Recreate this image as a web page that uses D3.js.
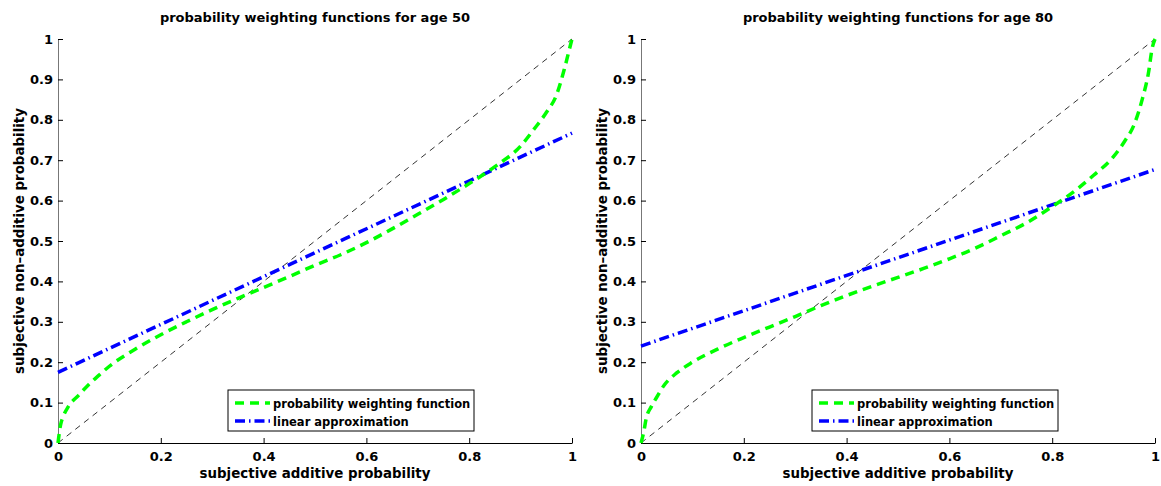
<!DOCTYPE html>
<html>
<head>
<meta charset="utf-8">
<script src="https://cdn.jsdelivr.net/npm/d3@7"></script>
<style>
  body { margin: 0; background: #fff; }
  svg text { font-family: "DejaVu Sans", "Liberation Sans", Arial, sans-serif; font-weight: bold; fill: #000; }
</style>
</head>
<body>
<div id="chart"></div>
<script>
// valores
const ticks = [0, 0.2, 0.4, 0.6, 0.8, 1];
const yTicks = [0, 0.1, 0.2, 0.3, 0.4, 0.5, 0.6, 0.7, 0.8, 0.9, 1];

const p50 = [0, 0.005, 0.01, 0.02, 0.04, 0.06, 0.08, 0.1, 0.15, 0.2, 0.25, 0.3, 0.35, 0.4, 0.45, 0.5, 0.55, 0.6, 0.65, 0.7, 0.75, 0.8, 0.85, 0.9, 0.925, 0.95, 0.97, 0.985, 0.995, 1];
const w50 = [0, 0.045, 0.065, 0.09, 0.118, 0.145, 0.168, 0.19, 0.232, 0.268, 0.3, 0.33, 0.358, 0.385, 0.412, 0.44, 0.466, 0.496, 0.53, 0.566, 0.603, 0.642, 0.684, 0.735, 0.775, 0.818, 0.862, 0.925, 0.975, 1];

const p80 = [0, 0.005, 0.01, 0.02, 0.03, 0.045, 0.07, 0.1, 0.15, 0.2, 0.25, 0.3, 0.35, 0.4, 0.45, 0.5, 0.55, 0.6, 0.65, 0.7, 0.75, 0.8, 0.85, 0.88, 0.92, 0.94, 0.96, 0.975, 0.987, 0.995, 1];
const w80 = [0, 0.025, 0.06, 0.09, 0.112, 0.143, 0.174, 0.2, 0.233, 0.261, 0.287, 0.313, 0.34, 0.365, 0.388, 0.41, 0.432, 0.456, 0.482, 0.513, 0.545, 0.585, 0.63, 0.662, 0.71, 0.745, 0.79, 0.85, 0.914, 0.98, 1];

const pLin = [0, 1];
const lin50 = [0.175, 0.767];
const lin80 = [0.24, 0.677];

const paneles = [
  { titulo: "probability weighting functions for age 50", x0: 58, x1: 572, p: p50, w: w50, lin: lin50, leg: 228 },
  { titulo: "probability weighting functions for age 80", x0: 641, x1: 1155, p: p80, w: w80, lin: lin80, leg: 812 }
];

const width = 1161, height = 486, yTop = 39, yBottom = 443;

const svg = d3.select("#chart").append("svg")
  .attr("width", width).attr("height", height);

paneles.forEach(pn => {
  const x = d3.scaleLinear().domain([0, 1]).range([pn.x0, pn.x1]);
  const y = d3.scaleLinear().domain([0, 1]).range([yBottom, yTop]);
  const g = svg.append("g");

  // ejes estilo matlab
  const ax = g.append("g")
    .attr("transform", `translate(0,${yBottom})`)
    .call(d3.axisBottom(x).tickValues(ticks).tickFormat(d3.format("~g")).tickSizeInner(-5).tickSizeOuter(0).tickPadding(9));
  ax.select(".domain").attr("stroke", "#000");
  ax.selectAll("text").attr("font-size", "13px");

  const ay = g.append("g")
    .attr("transform", `translate(${pn.x0},0)`)
    .call(d3.axisLeft(y).tickValues(yTicks).tickFormat(d3.format("~g")).tickSizeInner(-5).tickSizeOuter(0).tickPadding(5));
  ay.select(".domain").attr("stroke", "#777");
  ay.selectAll("text").attr("font-size", "13px");

  const line = d3.line().curve(d3.curveMonotoneX).x(d => x(d[0])).y(d => y(d[1]));

  // diagonal
  g.append("path")
    .datum([[0, 0], [1, 1]])
    .attr("d", line).attr("fill", "none")
    .attr("stroke", "#000").attr("stroke-width", 0.8)
    .attr("stroke-dasharray", "6,5");

  g.append("path")
    .datum(pLin.map((v, i) => [v, pn.lin[i]]))
    .attr("d", line).attr("fill", "none")
    .attr("stroke", "#0000ff").attr("stroke-width", 3.5)
    .attr("stroke-dasharray", "10,4,1.5,4");

  g.append("path")
    .datum(pn.p.map((v, i) => [v, pn.w[i]]))
    .attr("d", line).attr("fill", "none")
    .attr("stroke", "#00ff00").attr("stroke-width", 3.5)
    .attr("stroke-dasharray", "9,6");

  const cx = (pn.x0 + pn.x1) / 2;
  g.append("text").attr("x", cx).attr("y", 22)
    .attr("text-anchor", "middle").attr("font-size", "13px").text(pn.titulo);
  g.append("text").attr("x", cx).attr("y", 478)
    .attr("text-anchor", "middle").attr("font-size", "13.4px").text("subjective additive probability");
  g.append("text")
    .attr("transform", `translate(${pn.x0 - 34},${(yTop + yBottom) / 2}) rotate(-90)`)
    .attr("text-anchor", "middle").attr("font-size", "13.4px").text("subjective non\u2013additive probability");

  // leyenda
  const lg = g.append("g").attr("transform", `translate(${pn.leg},390)`);
  lg.append("rect").attr("width", 246).attr("height", 41)
    .attr("fill", "#fff").attr("stroke", "#000").attr("stroke-width", 1);
  const items = [
    { txt: "probability weighting function", c: "#00ff00", dash: "9,6" },
    { txt: "linear approximation", c: "#0000ff", dash: "10,4,1.5,4" }
  ];
  items.forEach((it, i) => {
    const yy = 13 + i * 18;
    lg.append("line").attr("x1", 7).attr("x2", 42).attr("y1", yy).attr("y2", yy)
      .attr("stroke", it.c).attr("stroke-width", 3.5).attr("stroke-dasharray", it.dash);
    lg.append("text").attr("x", 45).attr("y", yy + 4.5)
      .attr("font-size", "11.5px").text(it.txt);
  });
});
</script>
</body>
</html>
